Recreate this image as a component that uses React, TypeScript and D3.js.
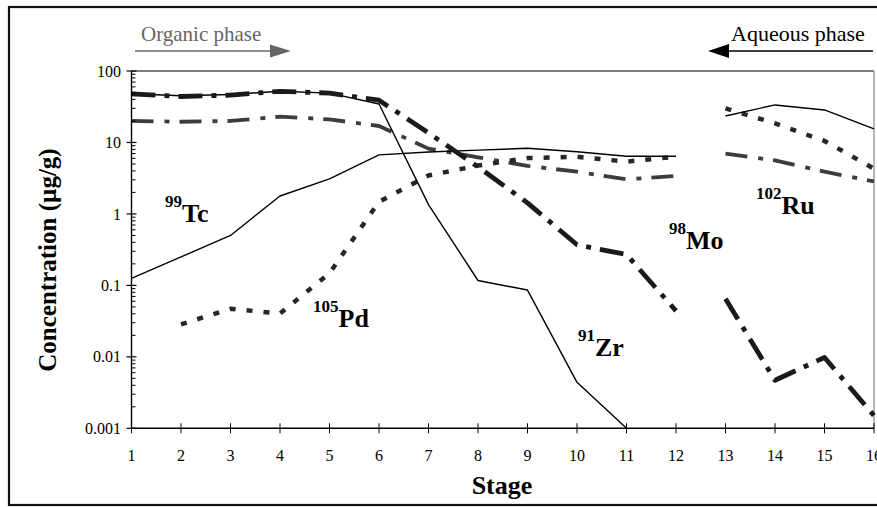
import React from "react";
import * as d3 from "d3";

// Stage numbers along the extraction cascade
const stages: number[] = d3.range(1, 17);
const lastOrganicStage = 12;

// Concentrations (µg/g) per stage; null where no value is plotted
const tcValues: (number | null)[] = [0.125, 0.25, 0.5, 1.78, 3.1, 6.7, 7.35, 7.8, 8.3, 7.4, 6.4, 6.4, 23.5, 33.5, 28.5, 15.5];
const zrValues: (number | null)[] = [48, 45, 47, 52, 49, 34.5, 1.35, 0.117, 0.086, 0.0044, 0.001, null, null, null, null, null];
const moValues: (number | null)[] = [48, 44, 46, 52, 49, 39, 13.6, 4.55, 1.43, 0.37, 0.27, 0.044, 0.065, 0.0047, 0.0098, 0.0015];
const ruValues: (number | null)[] = [20, 19.5, 20, 23, 21, 17, 8.2, 6.2, 4.7, 3.9, 3.05, 3.4, 7.0, 5.6, 3.9, 2.85];
const pdValues: (number | null)[] = [null, 0.0285, 0.047, 0.0405, 0.148, 1.48, 3.45, 4.75, 6.05, 6.3, 5.4, 6.3, 30, 18.5, 10.5, 4.3];

const yTickValues: number[] = [0.001, 0.01, 0.1, 1, 10, 100];
const yTickLabels: string[] = ["0.001", "0.01", "0.1", "1", "10", "100"];

const W = 877;
const H = 507;
const serif = "'Liberation Serif', 'Times New Roman', serif";

const x = d3.scaleLinear().domain([1, 16]).range([131.5, 874]);
const y = d3.scaleLog().domain([0.001, 100]).range([428.3, 71]);

type Pt = { s: number; v: number };

function runs(values: (number | null)[]): Pt[][] {
  const pts: Pt[] = stages
    .map((s, i) => ({ s, v: values[i] as number }))
    .filter((p) => p.v != null);
  return [pts.filter((p) => p.s <= lastOrganicStage), pts.filter((p) => p.s > lastOrganicStage)].filter(
    (r) => r.length > 1
  );
}

const line = d3
  .line<Pt>()
  .x((p) => x(p.s))
  .y((p) => y(p.v));

const seriesStyles = [
  { values: ruValues, stroke: "#3c3c3c", width: 3.8, dash: "22 11 5 10" },
  { values: pdValues, stroke: "#262626", width: 4.5, dash: "6 11" },
  { values: tcValues, stroke: "#000", width: 1.4, dash: "" },
  { values: zrValues, stroke: "#000", width: 1.4, dash: "" },
  { values: moValues, stroke: "#1a1a1a", width: 4.8, dash: "24 9 5 9" },
];

// Minor log ticks between decades
const minorTicks: number[] = [];
for (let e = -3; e < 2; e++) {
  for (let m = 2; m <= 9; m++) minorTicks.push(m * Math.pow(10, e));
}

function Isotope({ mass, sym, x0, base }: { mass: string; sym: string; x0: number; base: number }) {
  return (
    <text x={x0} y={base} fontFamily={serif} fontWeight="bold" fill="#000">
      <tspan fontSize={17} dy={-15}>{mass}</tspan>
      <tspan fontSize={26} dy={15}>{sym}</tspan>
    </text>
  );
}

export default function App() {
  return (
    <svg
      width={W}
      height={H}
      style={{ position: "absolute", left: 0, top: 0, background: "#fff" }}
    >
      {/* outer frame */}
      <rect x={9} y={7} width={W + 20} height={498} fill="none" stroke="#111" strokeWidth={2.2} />

      {/* phase arrows */}
      <text x={141} y={41} fontFamily={serif} fontSize={21} fill="#666">Organic phase</text>
      <line x1={135} x2={272} y1={51} y2={51} stroke="#666" strokeWidth={1.6} />
      <path d="M270,44.5 L291,51 L270,57.5 Z" fill="#666" />
      <text x={731} y={41} fontFamily={serif} fontSize={22} fill="#000">Aqueous phase</text>
      <line x1={726} x2={873} y1={51} y2={51} stroke="#000" strokeWidth={1.6} />
      <path d="M729,44 L708,51 L729,58 Z" fill="#000" />

      {/* plot frame */}
      <line x1={x(1)} x2={x(16)} y1={y(100)} y2={y(100)} stroke="#000" strokeWidth={1} />
      <line x1={x(16)} x2={x(16)} y1={y(100)} y2={y(0.001)} stroke="#888" strokeWidth={1.2} />

      {/* series */}
      {seriesStyles.map((st, i) =>
        runs(st.values).map((r, j) => (
          <path
            key={`${i}-${j}`}
            d={line(r) || ""}
            fill="none"
            stroke={st.stroke}
            strokeWidth={st.width}
            strokeDasharray={st.dash || undefined}
            strokeLinejoin="round"
          />
        ))
      )}

      {/* y axis */}
      <line x1={x(1)} x2={x(1)} y1={y(100)} y2={y(0.001)} stroke="#000" strokeWidth={1.4} />
      {minorTicks.map((t) => (
        <line key={t} x1={x(1)} x2={x(1) + 4} y1={y(t)} y2={y(t)} stroke="#000" strokeWidth={1} />
      ))}
      {yTickValues.map((t, i) => (
        <g key={t}>
          <line x1={x(1) - 5} x2={x(1) + 5} y1={y(t)} y2={y(t)} stroke="#000" strokeWidth={1.2} />
          <text
            x={121}
            y={y(t)}
            dy="0.35em"
            textAnchor="end"
            fontFamily={serif}
            fontSize={16}
            fill="#000"
          >
            {yTickLabels[i]}
          </text>
        </g>
      ))}

      {/* x axis */}
      <line x1={x(1)} x2={x(16)} y1={y(0.001)} y2={y(0.001)} stroke="#000" strokeWidth={1.4} />
      {stages.map((s) => (
        <g key={s}>
          <line x1={x(s)} x2={x(s)} y1={y(0.001) - 5} y2={y(0.001) + 5} stroke="#000" strokeWidth={1} />
          <text x={x(s)} y={461} textAnchor="middle" fontFamily={serif} fontSize={16} fill="#000">
            {s}
          </text>
        </g>
      ))}

      {/* axis titles */}
      <text x={502} y={494} textAnchor="middle" fontFamily={serif} fontWeight="bold" fontSize={26} fill="#000">
        Stage
      </text>
      <text
        transform="translate(56,260) rotate(-90)"
        textAnchor="middle"
        fontFamily={serif}
        fontWeight="bold"
        fontSize={25}
        fill="#000"
      >
        Concentration (µg/g)
      </text>

      {/* isotope labels */}
      <Isotope mass="99" sym="Tc" x0={165} base={222} />
      <Isotope mass="105" sym="Pd" x0={313} base={327} />
      <Isotope mass="91" sym="Zr" x0={578} base={356} />
      <Isotope mass="98" sym="Mo" x0={669} base={249} />
      <Isotope mass="102" sym="Ru" x0={756} base={214} />
    </svg>
  );
}
